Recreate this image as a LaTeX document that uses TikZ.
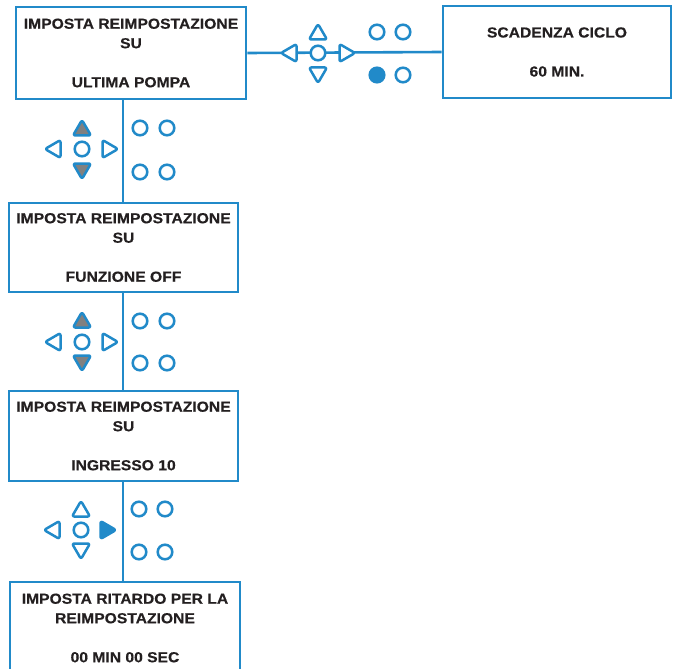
\documentclass[tikz,border=0pt]{standalone}
\usepackage{fontspec}
\newfontfamily\boxfont{Liberation Sans}[FakeStretch=1.08, BoldFeatures={FakeBold=0.4}]
\definecolor{pblue}{RGB}{33,138,201}
\definecolor{pgray}{RGB}{128,128,128}
\definecolor{ptext}{RGB}{35,31,32}
\tikzset{
  infobox/.style={draw=pblue, line width=2.6pt, fill=white, rectangle, inner sep=0pt,
    align=center, text=ptext, font=\boxfont\bfseries\fontsize{14.5}{19.5}\selectfont,
    execute at begin node={\rule{0pt}{14.5pt}}},
  link/.style={draw=pblue, line width=2.6pt},
  keytri/.style={draw=pblue, line width=2.5pt, fill=white, rounded corners=2.2pt, line join=round},
  kcirc/.style={circle, draw=pblue, line width=2.5pt, fill=white, minimum size=14.6pt, inner sep=0pt},
  grayfill/.style={fill=pgray},
  bluefill/.style={fill=pblue},
}
% triangles: #1 name, #2 extra style; drawn around named coordinate
\newcommand\ktriup[2]{\draw[keytri,#2] ($(#1)+(-9,7.5)$) -- ($(#1)+(0,-8)$) -- ($(#1)+(9,7.5)$) -- cycle;}
\newcommand\ktridown[2]{\draw[keytri,#2] ($(#1)+(-9,-7.5)$) -- ($(#1)+(0,8)$) -- ($(#1)+(9,-7.5)$) -- cycle;}
\newcommand\ktrileft[2]{\draw[keytri,#2] ($(#1)+(7.5,-9)$) -- ($(#1)+(-8,0)$) -- ($(#1)+(7.5,9)$) -- cycle;}
\newcommand\ktriright[2]{\draw[keytri,#2] ($(#1)+(-7.5,-9)$) -- ($(#1)+(8,0)$) -- ($(#1)+(-7.5,9)$) -- cycle;}
\usetikzlibrary{calc}
\begin{document}
\begin{tikzpicture}[x=1pt, y=-1pt]
\useasboundingbox (0,0) rectangle (673,669);
\clip (0,0) rectangle (673,669);
% boxes
\node[infobox, minimum width=230pt, minimum height=92pt] (b1) at (131,53)
  {IMPOSTA REIMPOSTAZIONE\\SU\\[19.5pt]ULTIMA POMPA};
\node[infobox, minimum width=228pt, minimum height=92pt] (sc) at (557,52)
  {SCADENZA CICLO\\[19.5pt]60 MIN.};
\node[infobox, minimum width=229pt, minimum height=89pt] (b2) at (123.5,247.5)
  {IMPOSTA REIMPOSTAZIONE\\SU\\[19.5pt]FUNZIONE OFF};
\node[infobox, minimum width=229pt, minimum height=90pt] (b3) at (123.5,436)
  {IMPOSTA REIMPOSTAZIONE\\SU\\[19.5pt]INGRESSO 10};
\node[infobox, minimum width=230pt, minimum height=92pt] (b4) at (125,628)
  {IMPOSTA RITARDO PER LA\\REIMPOSTAZIONE\\[19.5pt]00 MIN 00 SEC};
% connectors
\draw[link] (b1.east) -- (sc.west);
\draw[link] (b2.north -| 123,0) -- (b1.south -| 123,0);
\draw[link] (b2.south -| 123,0) -- (b3.north -| 123,0);
\draw[link] (b3.south -| 123,0) -- (b4.north -| 123,0);
% keypad 1 (horizontal link)
\coordinate (k1u) at (318,32);
\coordinate (k1d) at (318,75);
\coordinate (k1l) at (289,53);
\coordinate (k1r) at (347,53);
\node[kcirc] (k1c) at (318,53) {};
\ktriup{k1u}{}
\ktridown{k1d}{}
\ktrileft{k1l}{}
\ktriright{k1r}{}
\node[kcirc] (k1a) at (377,32) {};
\node[kcirc] (k1b) at (403,32) {};
\node[kcirc, bluefill] (k1e) at (377,75) {};
\node[kcirc] (k1f) at (403,75) {};
% keypad 2
\coordinate (k2u) at (82,128);
\coordinate (k2d) at (82,171);
\coordinate (k2l) at (53,149);
\coordinate (k2r) at (110,149);
\node[kcirc] (k2c) at (82,149) {};
\ktriup{k2u}{grayfill}
\ktridown{k2d}{grayfill}
\ktrileft{k2l}{}
\ktriright{k2r}{}
\node[kcirc] (k2a) at (140,128) {};
\node[kcirc] (k2b) at (167,128) {};
\node[kcirc] (k2e) at (140,172) {};
\node[kcirc] (k2f) at (167,172) {};
% keypad 3
\coordinate (k3u) at (82,320);
\coordinate (k3d) at (82,363);
\coordinate (k3l) at (53,342);
\coordinate (k3r) at (110,342);
\node[kcirc] (k3c) at (82,342) {};
\ktriup{k3u}{grayfill}
\ktridown{k3d}{grayfill}
\ktrileft{k3l}{}
\ktriright{k3r}{}
\node[kcirc] (k3a) at (140,321) {};
\node[kcirc] (k3b) at (167,321) {};
\node[kcirc] (k3e) at (140,363) {};
\node[kcirc] (k3f) at (167,363) {};
% keypad 4
\coordinate (k4u) at (81,509);
\coordinate (k4d) at (81,551);
\coordinate (k4l) at (52,530);
\coordinate (k4r) at (108,530);
\node[kcirc] (k4c) at (81,530) {};
\ktriup{k4u}{}
\ktridown{k4d}{}
\ktrileft{k4l}{}
\ktriright{k4r}{bluefill}
\node[kcirc] (k4a) at (139,509) {};
\node[kcirc] (k4b) at (165,509) {};
\node[kcirc] (k4e) at (139,552) {};
\node[kcirc] (k4f) at (165,552) {};
\end{tikzpicture}
\end{document}
